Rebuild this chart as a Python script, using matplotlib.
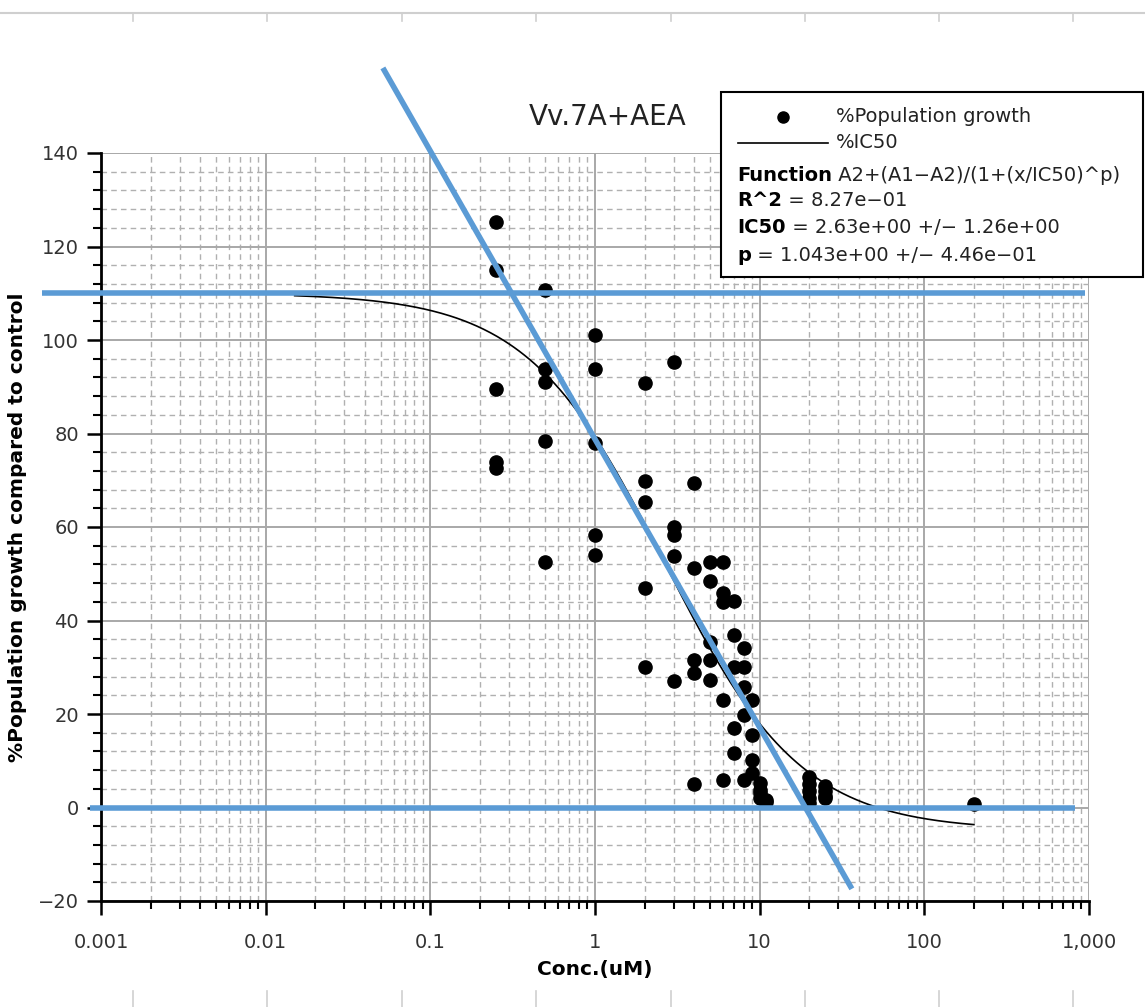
import numpy as np
import matplotlib
matplotlib.use("Agg")
import matplotlib.pyplot as plt
from matplotlib.ticker import FixedLocator, FixedFormatter, MultipleLocator, LogLocator, NullFormatter
from matplotlib.patches import Rectangle
from matplotlib.lines import Line2D

# ---- measured growth (% of control) at each concentration (uM) ----
conc_025 = [125.2, 115.0, 89.5, 74.0, 72.6]
conc_05 = [110.7, 93.8, 91.0, 78.3, 52.5]
conc_1 = [101.0, 93.7, 78.0, 58.3, 54.0]
conc_2 = [90.8, 69.8, 65.4, 47.0, 30.0]
conc_3 = [95.3, 60.1, 58.3, 53.9, 27.1]
conc_4 = [69.5, 51.3, 31.6, 28.8, 5.0]
conc_5 = [52.6, 48.5, 35.5, 31.6, 27.3]
conc_6 = [52.6, 45.8, 44.0, 23.0, 5.9]
conc_7 = [44.2, 37.0, 30.1, 17.1, 11.6]
conc_8 = [34.1, 30.0, 25.7, 19.8, 5.9]
conc_9 = [23.0, 15.5, 10.2, 7.3]
conc_10 = [5.2, 3.8, 3.1, 2.0]
conc_11 = [1.6, 1.1]
conc_20 = [6.5, 5.0, 3.5, 2.0, 1.0]
conc_25 = [4.5, 3.5, 2.5, 2.0]
conc_200 = [0.7]

groups = {
    0.25: conc_025, 0.5: conc_05, 1: conc_1, 2: conc_2, 3: conc_3,
    4: conc_4, 5: conc_5, 6: conc_6, 7: conc_7, 8: conc_8, 9: conc_9,
    10: conc_10, 11: conc_11, 20: conc_20, 25: conc_25, 200: conc_200,
}

# ---- four-parameter logistic fit ----
A1 = 110.0
A2 = -4.9
IC50 = 2.63
P = 1.043
fit_range = [0.015, 200]

# ---- reference lines drawn over the plot (x in uM, y in %) ----
top_line_x = [0.00044, 940]
top_line_y = [110, 110]
zero_line_x = [0.00086, 820]
zero_line_y = [0, 0]
slope_line_x = [0.0515, 36.3]
slope_line_y = [158.2, -17.4]

# ---- axis ticks ----
x_ticks = [0.001, 0.01, 0.1, 1, 10, 100, 1000]
x_tick_labels = ["0.001", "0.01", "0.1", "1", "10", "100", "1,000"]
y_ticks = [-20, 0, 20, 40, 60, 80, 100, 120, 140]
y_tick_labels = ["\u221220", "0", "20", "40", "60", "80", "100", "120", "140"]

W, H = 1145, 1007
fig = plt.figure(figsize=(W / 100, H / 100), dpi=100)
fig.patch.set_facecolor("white")

ax = fig.add_axes([101 / W, 1 - 901 / H, (1089 - 101) / W, (901 - 153) / H])
ax.set_xscale("log")
ax.set_xlim(0.001, 1000)
ax.set_ylim(-20, 140)

for s in ["top", "right"]:
    ax.spines[s].set_visible(False)
for s in ["left", "bottom"]:
    ax.spines[s].set_linewidth(2)
    ax.spines[s].set_color("black")

ax.xaxis.set_major_locator(FixedLocator(x_ticks))
ax.xaxis.set_major_formatter(FixedFormatter(x_tick_labels))
ax.xaxis.set_minor_locator(LogLocator(base=10, subs=np.arange(2, 10), numticks=20))
ax.xaxis.set_minor_formatter(NullFormatter())
ax.yaxis.set_major_locator(FixedLocator(y_ticks))
ax.yaxis.set_major_formatter(FixedFormatter(y_tick_labels))
ax.yaxis.set_minor_locator(MultipleLocator(4))

ax.tick_params(axis="both", which="major", direction="out", length=10, width=1.8,
               labelsize=14, labelcolor="#333333", color="black")
ax.tick_params(axis="both", which="minor", direction="out", length=6, width=1.5, color="black")
ax.tick_params(axis="x", which="major", pad=13)
ax.tick_params(axis="y", which="major", pad=6)

ax.grid(which="major", color="#a8a8a8", lw=1.4, ls="-", zorder=0)
ax.grid(which="minor", color="#b0b0b0", lw=1.0, ls=(0, (4, 3)), zorder=0)
ax.set_axisbelow(True)

# scatter of replicates
xs, ys = [], []
for c, vals in groups.items():
    xs.extend([c] * len(vals))
    ys.extend(vals)
ax.plot(xs, ys, "o", color="black", markersize=9.5, zorder=3, linestyle="none")

# logistic fit curve
xf = np.logspace(np.log10(fit_range[0]), np.log10(fit_range[1]), 400)
yf = A2 + (A1 - A2) / (1 + (xf / IC50) ** P)
ax.plot(xf, yf, color="black", lw=1.2, zorder=4)

# blue guide lines
blue = "#5b9bd5"
for lx, ly in [(top_line_x, top_line_y), (zero_line_x, zero_line_y), (slope_line_x, slope_line_y)]:
    ax.plot(lx, ly, color=blue, lw=4, solid_capstyle="butt", clip_on=False, zorder=6)

ax.set_xlabel("Conc.(uM)", fontsize=14.5, fontweight="bold", labelpad=6)
ax.set_ylabel("%Population growth compared to control", fontsize=14.5, fontweight="bold", labelpad=8)

# title
fig.text(608 / W, 1 - 117 / H, "Vv.7A+AEA", fontsize=20, ha="center", va="center", color="#222222")

# legend / fit summary box
fig.add_artist(Rectangle((721 / W, 1 - 277 / H), (1143 - 721) / W, (277 - 92) / H,
                         transform=fig.transFigure, facecolor="white",
                         edgecolor="black", lw=1.5, zorder=10))
fig.add_artist(Line2D([783 / W], [1 - 117 / H], marker="o", color="black",
                      markersize=8, transform=fig.transFigure, zorder=11))
fig.add_artist(Line2D([738 / W, 828 / W], [1 - 143 / H, 1 - 143 / H], color="black",
                      lw=1.2, transform=fig.transFigure, zorder=11))
fs = 14
fig.text(836 / W, 1 - 117 / H, "%Population growth", fontsize=fs, va="center", ha="left",
         color="#222222", zorder=11)
fig.text(836 / W, 1 - 143 / H, "%IC50", fontsize=fs, va="center", ha="left",
         color="#222222", zorder=11)

rows = [
    ("Function", " A2+(A1\u2212A2)/(1+(x/IC50)^p)", 181),
    ("R^2", " = 8.27e\u221201", 206),
    ("IC50", " = 2.63e+00 +/\u2212 1.26e+00", 233),
    ("p", " = 1.043e+00 +/\u2212 4.46e\u221201", 261),
]
for bold, rest, py in rows:
    t1 = fig.text(737 / W, 1 - py / H, bold, fontsize=fs, fontweight="bold",
                  va="baseline", ha="left", color="black", zorder=11)
    ann = plt.Annotation(rest, xy=(1, 0), xycoords=t1, va="bottom", ha="left",
                         fontsize=fs, color="#222222", zorder=11)
    fig.add_artist(ann)

# page ruler marks above and below the chart
ruler_x = [133, 267, 402, 536, 671, 805, 939, 1073]
fig.add_artist(Line2D([0, 1], [1 - 13 / H, 1 - 13 / H], color="#cfcfcf", lw=1.5,
                      transform=fig.transFigure))
for rx in ruler_x:
    fig.add_artist(Line2D([rx / W, rx / W], [1 - 13 / H, 1 - 21 / H], color="#cfcfcf",
                          lw=1.2, transform=fig.transFigure))
    fig.add_artist(Line2D([rx / W, rx / W], [1 - 991 / H, 0], color="#cfcfcf",
                          lw=1.2, transform=fig.transFigure))

fig.savefig("out.png", dpi=100)
